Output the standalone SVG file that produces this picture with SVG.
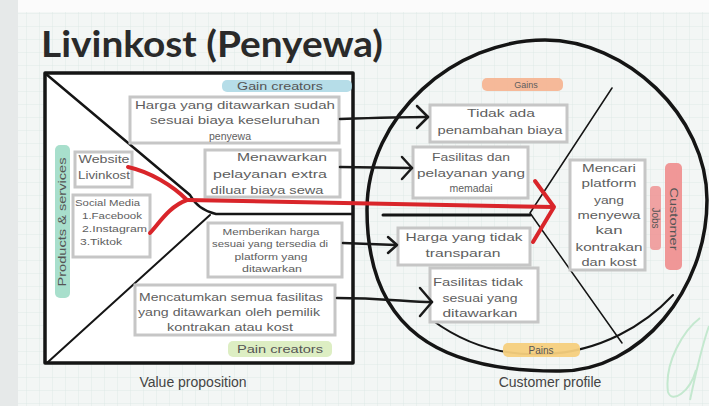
<svg xmlns="http://www.w3.org/2000/svg" width="709" height="406" viewBox="0 0 709 406">
<defs>
<pattern id="grid" width="13" height="13" patternUnits="userSpaceOnUse">
<path d="M13,0 L0,0 L0,13" fill="none" stroke="#d9e7e4" stroke-width="0.8"/>
</pattern>
<style>
.box{fill:#ffffff;stroke:#c6c6c6;stroke-width:3}
.t{font-family:"Liberation Sans","DejaVu Sans",sans-serif;font-size:10.5px;fill:#5e5e5e;text-anchor:middle}
.ts{font-family:"Liberation Sans","DejaVu Sans",sans-serif;font-size:9px;fill:#5e5e5e;text-anchor:middle}
.tl{font-family:"Liberation Sans","DejaVu Sans",sans-serif;font-size:9px;fill:#5e5e5e;text-anchor:start}
.lab{font-family:"Liberation Sans","DejaVu Sans",sans-serif;font-size:10px;fill:#555;text-anchor:middle}
.big{font-family:"Liberation Sans","DejaVu Sans",sans-serif;font-size:14px;fill:#444;text-anchor:middle}
.conn{fill:none;stroke:#1a1a1a;stroke-width:2.5;stroke-linecap:round;stroke-linejoin:round}
.red{fill:none;stroke:#d9252a;stroke-width:4;stroke-linecap:round;stroke-linejoin:round}
.frame{fill:none;stroke:#151515;stroke-linecap:round;stroke-linejoin:round}
</style>
</defs>

<!-- background -->
<rect x="0" y="0" width="709" height="406" fill="#f3f6f5"/>
<rect x="0" y="0" width="709" height="406" fill="url(#grid)"/>
<rect x="0" y="0" width="709" height="12" fill="#fbfbfb"/>
<rect x="0" y="0" width="18" height="406" fill="#e6e9e9"/>
<path d="M700,318 C684,330 664,362 668,392 C672,404 690,392 696,370 M690,400 C696,372 704,340 709,326" fill="none" stroke="#c4e8cf" stroke-width="2"/>

<!-- title -->
<text x="41" y="57" font-family="Lato,'Open Sans','Liberation Sans',sans-serif" font-size="36" font-weight="bold" fill="#2a2a2a" textLength="342" lengthAdjust="spacingAndGlyphs">Livinkost (Penyewa)</text>

<!-- value proposition canvas -->
<g id="value-proposition">
<rect x="45" y="73" width="308" height="290" fill="#ffffff"/>
<rect x="45" y="73" width="308" height="290" class="frame" stroke-width="3.5"/>
<path d="M46,74 L190,195 Q198,210 216,214 L352,214" class="frame" stroke-width="2.5"/>
<path d="M210,215 L48,362" class="frame" stroke-width="2"/>
<text class="big" x="193" y="387">Value proposition</text>
</g>

<!-- customer profile canvas -->
<g id="customer-profile">
<path d="M545,40 C625,40 707,115 707,200 C707,290 640,371 560,371 C440,372 367,330 367,210 C367,115 455,40 545,40 Z" fill="#ffffff" class="frame" stroke-width="3.5"/>
<path d="M383,215 L530,215" class="frame" stroke-width="3"/>
<path d="M612,88 L530,213 L622,343" class="frame" stroke-width="1.5"/>
<path d="M432,320 C470,348 510,356 545,354 C600,352 645,325 673,295" class="frame" stroke-width="2"/>
<text class="big" x="550" y="387">Customer profile</text>
</g>

<!-- labels -->
<g id="label-gain-creators">
<rect x="222" y="80" width="130" height="12" rx="5" fill="#a9d7e4" opacity="0.85"/>
<text class="lab" x="280" y="90" textLength="86" lengthAdjust="spacingAndGlyphs">Gain creators</text>
</g>
<g id="label-pain-creators">
<rect x="228" y="341" width="104" height="16" rx="5" fill="#d9ecbd" opacity="0.9"/>
<text class="lab" x="280" y="353" textLength="86" lengthAdjust="spacingAndGlyphs">Pain creators</text>
</g>
<g id="label-products-services">
<rect x="55" y="145" width="15" height="153" rx="5" fill="#9fdcc6" opacity="0.9"/>
<text class="lab" transform="translate(66,222) rotate(-90)" x="0" y="0" textLength="129" lengthAdjust="spacingAndGlyphs">Products &amp; services</text>
</g>
<g id="label-gains">
<rect x="482" y="78" width="81" height="13" rx="5" fill="#f6b38f" opacity="0.9"/>
<text class="ts" x="526" y="88">Gains</text>
</g>
<g id="label-pains">
<rect x="503" y="343" width="77" height="14" rx="5" fill="#f5cf7d" opacity="0.95"/>
<text class="lab" x="541" y="354">Pains</text>
</g>
<g id="label-customer-jobs">
<rect x="665" y="163" width="17" height="107" rx="5" fill="#ef8d8d" opacity="0.9"/>
<rect x="650" y="186" width="11" height="64" rx="4" fill="#ef8d8d" opacity="0.8"/>
<text class="lab" transform="translate(670,219) rotate(90)" x="0" y="0" textLength="63" lengthAdjust="spacingAndGlyphs">Customer</text>
<text class="lab" transform="translate(652,218) rotate(90)" x="0" y="0">Jobs</text>
</g>

<!-- value proposition nodes -->
<g id="gc-harga">
<rect class="box" x="130" y="97" width="209" height="46"/>
<text class="t" x="235" y="109" textLength="200" lengthAdjust="spacingAndGlyphs">Harga yang ditawarkan sudah</text>
<text class="t" x="235" y="124" textLength="170" lengthAdjust="spacingAndGlyphs">sesuai biaya keseluruhan</text>
<text class="t" x="230" y="140">penyewa</text>
</g>
<g id="gc-pelayanan">
<rect class="box" x="205" y="150" width="135" height="47"/>
<text class="t" x="282" y="161" textLength="90" lengthAdjust="spacingAndGlyphs">Menawarkan</text>
<text class="t" x="270" y="178" textLength="114" lengthAdjust="spacingAndGlyphs">pelayanan extra</text>
<text class="t" x="267" y="194" textLength="113" lengthAdjust="spacingAndGlyphs">diluar biaya sewa</text>
</g>
<g id="pc-harga">
<rect class="box" x="208" y="223" width="134" height="54"/>
<text class="ts" x="271" y="235" textLength="97" lengthAdjust="spacingAndGlyphs">Memberikan harga</text>
<text class="ts" x="270" y="247" textLength="116" lengthAdjust="spacingAndGlyphs">sesuai yang tersedia di</text>
<text class="ts" x="271" y="260" textLength="73" lengthAdjust="spacingAndGlyphs">platform yang</text>
<text class="ts" x="272" y="272" textLength="60" lengthAdjust="spacingAndGlyphs">ditawarkan</text>
</g>
<g id="pc-fasilitas">
<rect class="box" x="135" y="285" width="200" height="50"/>
<text class="t" x="231" y="301" textLength="184" lengthAdjust="spacingAndGlyphs">Mencatumkan semua fasilitas</text>
<text class="t" x="229" y="316" textLength="182" lengthAdjust="spacingAndGlyphs">yang ditawarkan oleh pemilik</text>
<text class="t" x="230" y="331" textLength="126" lengthAdjust="spacingAndGlyphs">kontrakan atau kost</text>
</g>
<g id="ps-website">
<rect class="box" x="75" y="152" width="57" height="35"/>
<text class="t" x="104" y="163" textLength="51" lengthAdjust="spacingAndGlyphs">Website</text>
<text class="t" x="104" y="179" textLength="52" lengthAdjust="spacingAndGlyphs">Livinkost</text>
</g>
<g id="ps-social">
<rect class="box" x="73" y="195" width="77" height="62"/>
<text class="tl" x="75" y="206" textLength="65" lengthAdjust="spacingAndGlyphs">Social Media</text>
<text class="tl" x="82" y="219" textLength="60" lengthAdjust="spacingAndGlyphs">1.Facebook</text>
<text class="tl" x="82" y="232" textLength="65" lengthAdjust="spacingAndGlyphs">2.Instagram</text>
<text class="tl" x="80" y="245" textLength="42" lengthAdjust="spacingAndGlyphs">3.Tiktok</text>
</g>

<!-- customer profile nodes -->
<g id="gain-tidak-ada">
<rect class="box" x="430" y="105" width="137" height="37"/>
<text class="t" x="501" y="117" textLength="68" lengthAdjust="spacingAndGlyphs">Tidak ada</text>
<text class="t" x="500" y="134" textLength="125" lengthAdjust="spacingAndGlyphs">penambahan biaya</text>
</g>
<g id="gain-fasilitas">
<rect class="box" x="413" y="147" width="115" height="51"/>
<text class="t" x="471" y="161" textLength="78" lengthAdjust="spacingAndGlyphs">Fasilitas dan</text>
<text class="t" x="471" y="177" textLength="108" lengthAdjust="spacingAndGlyphs">pelayanan yang</text>
<text class="t" x="471" y="192">memadai</text>
</g>
<g id="job-mencari">
<rect class="box" x="570" y="160" width="75" height="110"/>
<text class="t" x="609" y="172" textLength="54" lengthAdjust="spacingAndGlyphs">Mencari</text>
<text class="t" x="609" y="187" textLength="55" lengthAdjust="spacingAndGlyphs">platform</text>
<text class="t" x="609" y="204" textLength="30" lengthAdjust="spacingAndGlyphs">yang</text>
<text class="t" x="609" y="219" textLength="63" lengthAdjust="spacingAndGlyphs">menyewa</text>
<text class="t" x="609" y="234" textLength="27" lengthAdjust="spacingAndGlyphs">kan</text>
<text class="t" x="609" y="251" textLength="67" lengthAdjust="spacingAndGlyphs">kontrakan</text>
<text class="t" x="609" y="266" textLength="55" lengthAdjust="spacingAndGlyphs">dan kost</text>
</g>
<g id="pain-harga">
<rect class="box" x="398" y="228" width="132" height="37"/>
<text class="t" x="464" y="241" textLength="117" lengthAdjust="spacingAndGlyphs">Harga yang tidak</text>
<text class="t" x="463" y="257" textLength="75" lengthAdjust="spacingAndGlyphs">transparan</text>
</g>
<g id="pain-fasilitas">
<rect class="box" x="430" y="268" width="108" height="54"/>
<text class="t" x="478" y="286" textLength="90" lengthAdjust="spacingAndGlyphs">Fasilitas tidak</text>
<text class="t" x="480" y="302" textLength="75" lengthAdjust="spacingAndGlyphs">sesuai yang</text>
<text class="t" x="480" y="317" textLength="75" lengthAdjust="spacingAndGlyphs">ditawarkan</text>
</g>

<!-- connectors -->
<g id="connectors">
<path class="conn" d="M340,119 C370,118 400,117 428,117"/>
<path class="conn" d="M417,106 L428,117 L417,128"/>
<path class="conn" d="M340,167 L412,168"/>
<path class="conn" d="M402,157 L412,168 L402,179"/>
<path class="conn" d="M343,243 L396,245"/>
<path class="conn" d="M388,237 L397,245 L388,253"/>
<path class="conn" d="M337,298 C380,298 410,302 432,302"/>
<path class="conn" d="M420,288 L432,302 L420,316"/>
<path class="red" d="M128,167 C150,172 172,185 187,200"/>
<path class="red" d="M150,233 C160,222 170,206 187,200"/>
<path class="red" d="M187,200 L553,207"/>
<path class="red" d="M535,181 L554,207 L533,242"/>
</g>
</svg>
